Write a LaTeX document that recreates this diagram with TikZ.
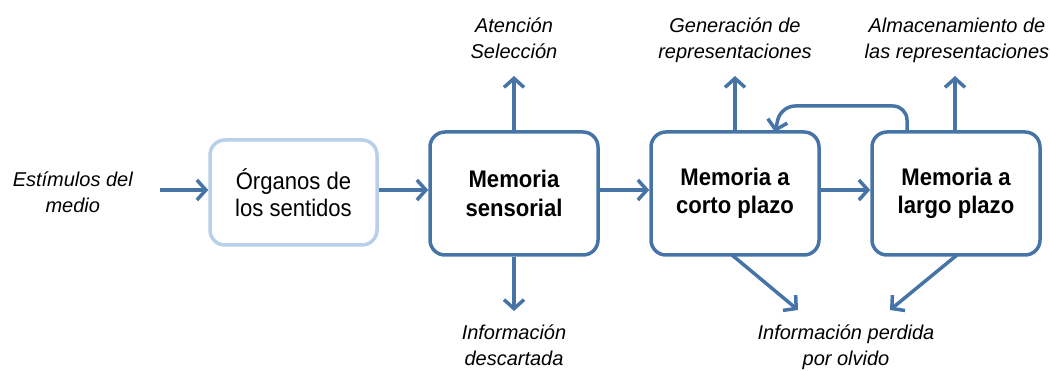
\documentclass[tikz,border=0pt]{standalone}
\usepackage{fontspec}
\setmainfont{Liberation Sans}
\newfontfamily\boxfont[FakeStretch=0.92]{Liberation Sans}
\usetikzlibrary{arrows.meta}
\definecolor{dblue}{HTML}{4674A6}
\definecolor{lblue}{HTML}{B8D0EA}
\tikzset{
  box/.style={draw=dblue, line width=3.5pt, rounded corners=15pt, fill=white, align=center,
    font=\boxfont\fontsize{24}{28.5}\selectfont\bfseries, minimum width=168pt, minimum height=123pt, inner sep=0pt},
  lbox/.style={box, draw=lblue, font=\boxfont\fontsize{24}{26.5}\selectfont, minimum width=167pt, minimum height=105pt},
  lbl/.style={align=center, font=\fontsize{20}{26}\selectfont\itshape, inner sep=0pt},
  arr/.style={draw=dblue, line width=3.5pt, -{Straight Barb[length=9pt,width=20pt]}}
}
\begin{document}
\begin{tikzpicture}[x=1pt,y=-1pt]
\useasboundingbox (0,0) rectangle (1050,371);
\node[lbox] (org) at (293.5,192.5) {Órganos de\\los sentidos};
\node[box] (sens) at (514,193.5) {Memoria\\sensorial};
\node[box] (corto) at (735,193.5) {Memoria a\\corto plazo};
\node[box] (largo) at (956,193.5) {Memoria a\\largo plazo};

\node[lbl, anchor=base east] (est) at (133,212.7) {Estímulos del\\medio};
\node[lbl, anchor=base] (aten) at (514,58.8) {Atención\\Selección};
\node[lbl, anchor=base] (gen) at (735,58.8) {Generación de\\representaciones};
\node[lbl, anchor=base] (alm) at (957,58.8) {Almacenamiento de\\las representaciones};
\node[lbl, anchor=base] (desc) at (514,366) {Información\\descartada};
\node[lbl, anchor=base] (perd) at (846,366) {Información perdida\\por olvido};

\coordinate (estend) at (160,190);
\draw[arr] (estend) -- (org.west |- estend);
\draw[arr] (org.east |- 0,190) -- (sens.west |- 0,190);
\draw[arr] (sens.east |- 0,190) -- (corto.west |- 0,190);
\draw[arr] (corto.east |- 0,190) -- (largo.west |- 0,190);

\coordinate (atip) at (514,76);
\coordinate (dtip) at (514,311);
\coordinate (gtip) at (735,76);
\coordinate (ltip) at (955,76);
\draw[arr] (sens.north) -- (atip);
\draw[arr] (sens.south) -- (dtip);
\draw[arr] (corto.north) -- (gtip);
\draw[arr] (largo.north -| ltip) -- (ltip);

\coordinate (c1) at (732,255);
\coordinate (c2) at (798,310);
\coordinate (l1) at (957,255);
\coordinate (l2) at (890,310);
\draw[arr] (c1) -- (c2);
\draw[arr] (l1) -- (l2);

\coordinate (fb1) at (907,132);
\coordinate (fb2) at (775,132);
\draw[arr, rounded corners=14pt] (fb1) -- (907,106) -- (781,106) -- (fb2);
\end{tikzpicture}
\end{document}
